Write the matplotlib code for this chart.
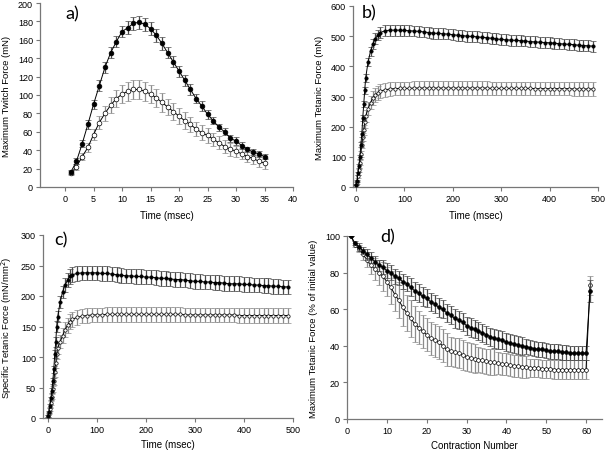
import numpy as np
import matplotlib
matplotlib.use("Agg")
import matplotlib.pyplot as plt

plt.rcParams['font.family'] = ['Liberation Sans', 'DejaVu Sans']

# ---------------- Panel a: twitch force ----------------
a_time = list(range(1, 36))
a_filled = [16, 28, 47, 68, 90, 110, 130, 146, 158, 169, 173, 178, 179, 177, 172,
            165, 156, 146, 136, 126, 116, 106, 96, 88, 79, 72, 65, 60, 53, 50,
            45, 41, 38, 36, 33]
a_filled_err = [2, 3, 4, 5, 5, 6, 6, 6, 6, 6, 7, 7, 7, 7, 7,
                7, 7, 6, 6, 6, 6, 6, 5, 5, 5, 4, 4, 4, 4, 4,
                4, 3, 3, 3, 3]
a_open = [15, 22, 33, 43, 57, 70, 80, 89, 96, 101, 104, 106, 106, 104, 101,
          97, 92, 87, 82, 77, 72, 68, 63, 59, 56, 52, 48, 44, 41, 39,
          36, 33, 31, 28, 26]
a_open_err = [2, 3, 4, 5, 6, 7, 8, 9, 9, 10, 10, 10, 10, 10, 10,
              10, 10, 9, 9, 9, 9, 8, 8, 8, 8, 7, 7, 7, 7, 6,
              6, 6, 6, 6, 6]

# ---------------- Panel b: tetanic force ----------------
b_time = [0, 2, 4, 6, 8, 10, 12, 14, 16, 18, 20, 25, 30, 35, 40, 45, 50] + list(range(60, 500, 10))
b_filled = [8, 20, 45, 70, 100, 140, 175, 230, 275, 320, 362, 415, 450, 475, 492, 503, 512,
            518, 520, 520, 520, 519, 518, 517, 516, 514, 512, 510, 509, 508, 507, 505,
            503, 502, 500, 499, 498, 496, 495, 493, 491, 489, 488, 487, 486, 485, 484,
            482, 481, 480, 479, 478, 477, 475, 474, 473, 472, 470, 469, 468, 467]
b_filled_err = [3, 4, 5, 6, 7, 8, 9, 10, 11, 12, 13, 14, 15, 16, 17, 17, 18] + [18] * 44
b_open = [8, 15, 35, 55, 80, 110, 140, 165, 190, 215, 235, 260, 280, 295, 305, 312, 318,
          322, 325, 326, 327, 327, 327, 328, 328, 328, 328, 328, 328, 328, 328, 328,
          328, 328, 328, 328, 328, 328, 328, 327, 327, 327, 327, 327, 327, 327, 327,
          327, 326, 326, 326, 326, 326, 326, 326, 326, 325, 325, 325, 325, 325]
b_open_err = [3, 4, 5, 6, 8, 10, 12, 14, 16, 18, 20, 22, 22, 22, 22, 22, 22] + [22] * 44

# ---------------- Panel c: specific tetanic force ----------------
c_time = b_time
c_filled = [3, 10, 20, 32, 45, 60, 80, 105, 125, 150, 166, 190, 207, 218, 226, 232, 235,
            237, 238, 238, 238, 238, 237, 237, 236, 235, 234, 233, 233, 232, 232, 231,
            231, 230, 229, 229, 228, 227, 227, 226, 225, 224, 224, 223, 223, 222, 222,
            221, 220, 220, 220, 219, 219, 218, 218, 217, 217, 216, 216, 215, 215]
c_filled_err = [2, 2, 3, 3, 4, 5, 6, 7, 8, 9, 9, 10, 10, 11, 11, 12, 12] + [12] * 44
c_open = [3, 8, 15, 25, 35, 48, 60, 75, 90, 105, 115, 125, 135, 145, 152, 158, 162,
          165, 167, 168, 169, 169, 169, 170, 170, 170, 170, 170, 170, 170, 170, 170,
          170, 170, 170, 170, 170, 170, 170, 169, 169, 169, 169, 169, 169, 169, 169,
          169, 169, 169, 168, 168, 168, 168, 168, 168, 168, 168, 168, 168, 168]
c_open_err = [2, 2, 3, 3, 4, 5, 6, 7, 8, 9, 10, 11, 12, 12, 12, 12, 12] + [12] * 44

# ---------------- Panel d: fatigue ----------------
d_contraction = list(range(1, 62))
d_filled = [100, 96, 94, 92, 90, 88, 86, 84, 83, 81, 80, 78, 77, 75, 74, 72, 70, 69, 67, 66,
            64, 63, 61, 60, 58, 57, 55, 54, 53, 51, 50, 49, 48, 47, 46, 45, 44, 43.5, 43, 42,
            41.5, 41, 40.5, 40, 39.5, 39, 38.5, 38, 38, 37.5, 37, 37, 37, 36.5, 36.5, 36, 36, 36,
            36, 36, 70]
d_filled_err = [0, 1, 2, 2, 3, 3, 3, 3, 4, 4, 4, 4, 4, 4, 4, 5, 5, 5, 5, 5,
                5, 5, 5, 5, 5, 5, 5, 5, 5, 5, 5, 5, 5, 5, 5, 5, 5, 5, 5, 5,
                5, 5, 5, 5, 4, 4, 4, 4, 4, 4, 4, 4, 4, 4, 4, 4, 4, 4, 4, 4, 6]
d_open = [100, 95, 93, 90, 87, 84, 82, 80, 78, 75, 72, 68, 65, 61, 58, 55, 52, 50, 48, 46,
          44, 43, 42, 40, 38, 37, 36.5, 36, 35, 34, 33.5, 33, 32.5, 32, 31.5, 31, 31, 30.5, 30, 30,
          29.5, 29, 29, 28.5, 28.5, 28, 28, 28, 27.5, 27.5, 27.5, 27, 27, 27, 27, 27, 27, 27,
          27, 27, 73]
d_open_err = [0, 1, 2, 3, 4, 5, 6, 7, 8, 8, 9, 9, 10, 10, 10, 10, 10, 9, 9, 9,
              9, 9, 9, 9, 9, 8, 8, 8, 8, 8, 8, 8, 7, 7, 7, 7, 7, 6, 6, 6,
              6, 6, 6, 6, 6, 5, 5, 5, 5, 5, 5, 5, 5, 5, 5, 5, 5, 5, 5, 5, 5]

W, H = 605, 452
fig = plt.figure(figsize=(W / 100, H / 100), dpi=100)


def make_ax(left, right, top, bottom):
    return fig.add_axes([left / W, 1 - bottom / H, (right - left) / W, (bottom - top) / H])


def style(ax):
    for s in ['top', 'right']:
        ax.spines[s].set_visible(False)
    for s in ['left', 'bottom']:
        ax.spines[s].set_color('#777777')
        ax.spines[s].set_linewidth(0.9)
    ax.tick_params(direction='out', length=3, width=0.8, color='#777777',
                   labelsize=6.5, pad=2)


def draw(ax, x, yo, eo, yf, ef, ms=3.0):
    ax.errorbar(x, yo, yerr=eo, fmt='-o', color='black', lw=0.7, ms=ms,
                mfc='white', mec='black', mew=0.5, ecolor='#8c8c8c',
                elinewidth=0.9, capsize=2.0, capthick=0.9, zorder=2)
    ax.errorbar(x, yf, yerr=ef, fmt='-o', color='black', lw=0.7, ms=ms,
                mfc='black', mec='black', mew=0.5, ecolor='#4a4a4a',
                elinewidth=0.9, capsize=2.0, capthick=0.9, zorder=3)


# panel a
ax = make_ax(40, 293, 4, 188)
draw(ax, a_time, a_open, a_open_err, a_filled, a_filled_err, ms=3.4)
ax.set_xlim(-4.4, 40)
ax.set_ylim(0, 200)
ax.set_xticks(range(0, 41, 5))
ax.set_yticks(range(0, 201, 20))
style(ax)
ax.set_xlabel('Time (msec)', fontsize=7, labelpad=5)
ax.set_ylabel('Maximum Twitch Force (mN)', fontsize=6.8, labelpad=5)
fig.text(65 / W, 1 - 14 / H, 'a)', fontsize=13, family=['Lato', 'DejaVu Sans'],
         va='center', ha='left')

# panel b
ax = make_ax(353, 598, 7, 188)
draw(ax, b_time, b_open, b_open_err, b_filled, b_filled_err, ms=2.4)
ax.set_xlim(-6.2, 500)
ax.set_ylim(0, 600)
ax.set_xticks(range(0, 501, 100))
ax.set_yticks(range(0, 601, 100))
style(ax)
ax.set_xlabel('Time (msec)', fontsize=7, labelpad=5)
ax.set_ylabel('Maximum Tetanic Force (mN)', fontsize=6.8, labelpad=5)
fig.text(362 / W, 1 - 13 / H, 'b)', fontsize=13, family=['Lato', 'DejaVu Sans'],
         va='center', ha='left')

# panel c
ax = make_ax(43, 293, 236, 419)
draw(ax, c_time, c_open, c_open_err, c_filled, c_filled_err, ms=2.4)
ax.set_xlim(-10, 500)
ax.set_ylim(0, 300)
ax.set_xticks(range(0, 501, 100))
ax.set_yticks(range(0, 301, 50))
style(ax)
ax.set_xlabel('Time (msec)', fontsize=7, labelpad=4)
ax.set_ylabel('Specific Tetanic Force (mN/mm$^2$)', fontsize=6.8, labelpad=5)
fig.text(54 / W, 1 - 240 / H, 'c)', fontsize=13, family=['Lato', 'DejaVu Sans'],
         va='center', ha='left')

# panel d
ax = make_ax(347, 602, 237, 420)
draw(ax, d_contraction, d_open, d_open_err, d_filled, d_filled_err, ms=2.7)
ax.set_xlim(0, 64)
ax.set_ylim(0, 100)
ax.set_xticks(range(0, 61, 10))
ax.set_yticks(range(0, 101, 20))
style(ax)
ax.set_xlabel('Contraction Number', fontsize=7, labelpad=4)
ax.set_ylabel('Maximum Tetanic Force (% of initial value)', fontsize=6.8, labelpad=5)
fig.text(380 / W, 1 - 237 / H, 'd)', fontsize=13, family=['Lato', 'DejaVu Sans'],
         va='center', ha='left')

fig.savefig('out.png', dpi=100, facecolor='white')
